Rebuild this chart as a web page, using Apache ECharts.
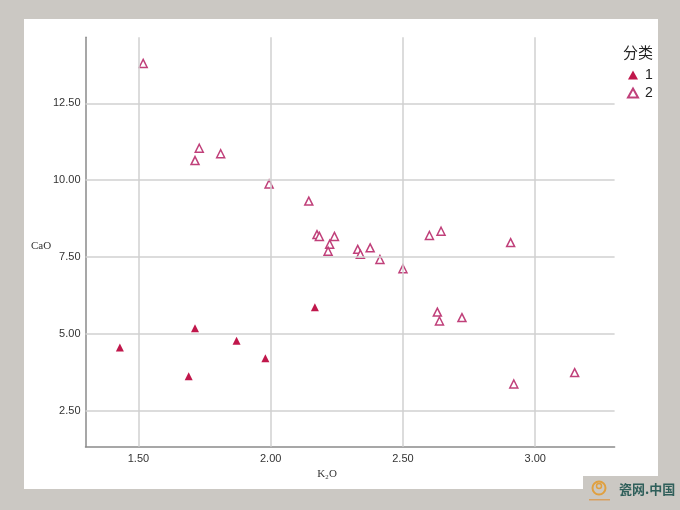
<!DOCTYPE html>
<html>
<head>
<meta charset="utf-8">
<script src="https://cdn.jsdelivr.net/npm/echarts@6/dist/echarts.min.js"></script>
<style>html,body{margin:0;padding:0;background:#cbc8c3;}#c{width:680px;height:510px;}</style>
</head>
<body>
<div id="c"></div>
<script>
var xTicks = [1.5, 2.0, 2.5, 3.0];
var yTicks = [2.5, 5.0, 7.5, 10.0, 12.5];
var seriesNames = ['1', '2'];
var group1 = [
  [1.430, 4.56], [1.714, 5.18], [1.690, 3.62], [1.871, 4.78], [1.980, 4.21], [2.167, 5.87]
];
var group2 = [
  [1.518, 13.80], [1.730, 11.04], [1.714, 10.64], [1.811, 10.86], [1.994, 9.88],
  [2.144, 9.32], [2.175, 8.23], [2.184, 8.17], [2.241, 8.17], [2.223, 7.92],
  [2.217, 7.69], [2.329, 7.75], [2.339, 7.59], [2.376, 7.80], [2.413, 7.42],
  [2.500, 7.12], [2.600, 8.20], [2.644, 8.34], [2.907, 7.97], [2.630, 5.71],
  [2.638, 5.42], [2.723, 5.53], [3.149, 3.74], [2.919, 3.37]
];

var chart = echarts.init(document.getElementById('c'));
var gridLineData = xTicks.map(function (v) { return { xAxis: v }; })
  .concat(yTicks.map(function (v) { return { yAxis: v }; }));

chart.setOption({
  backgroundColor: '#cbc8c3',
  animation: false,
  graphic: [
    { type: 'rect', z: -10, shape: { x: 24, y: 19, width: 634, height: 470 }, style: { fill: '#ffffff' } },
    { type: 'rect', z: -9, shape: { x: 583, y: 476, width: 97, height: 34 }, style: { fill: '#cbc8c3' } },
    { type: 'circle', z: 10, shape: { cx: 599, cy: 488, r: 6.5 }, style: { fill: 'none', stroke: '#e0a040', lineWidth: 2 } },
    { type: 'circle', z: 10, shape: { cx: 599, cy: 486, r: 2.5 }, style: { fill: 'none', stroke: '#e0a040', lineWidth: 1.5 } },
    { type: 'rect', z: 10, shape: { x: 589, y: 499, width: 21, height: 1.5 }, style: { fill: '#d8a060' } },
    { type: 'text', z: 10, style: { text: '瓷网.中国', x: 619, y: 489, fill: '#2f5f5a', font: 'bold 13px "Noto Sans CJK SC"', textVerticalAlign: 'middle' } },
    { type: 'text', style: { text: 'CaO', x: 41, y: 246, fill: '#333', font: '11px "Liberation Serif"', textAlign: 'center', textVerticalAlign: 'middle' } },
    { type: 'text', style: { text: 'K₂O', x: 327, y: 474, fill: '#333', font: '11px "Liberation Serif"', textAlign: 'center', textVerticalAlign: 'middle' } }
  ],
  title: {
    text: '分类', left: 618, top: 40,
    textStyle: { fontSize: 15, fontWeight: 'normal', color: '#222', fontFamily: '"Noto Sans CJK SC"' }
  },
  legend: {
    data: seriesNames, orient: 'vertical', left: 622, top: 63,
    itemWidth: 10, itemHeight: 9, itemGap: 4,
    textStyle: { fontSize: 14, color: '#222', fontFamily: '"Liberation Sans"', padding: [0, 0, 0, 2] }
  },
  grid: { left: 85.5, right: 65.4, top: 37.3, bottom: 63.2 },
  xAxis: {
    type: 'value', min: 1.3, max: 3.3,
    axisLine: { show: true, lineStyle: { color: '#8a8a8a', width: 1.5 } },
    axisTick: { show: false },
    splitLine: { show: false },
    axisLabel: {
      customValues: xTicks, margin: 7, color: '#333', fontSize: 11, fontFamily: '"Liberation Sans"',
      formatter: function (v) { return v.toFixed(2); }
    }
  },
  yAxis: {
    type: 'value', min: 1.326, max: 14.65,
    axisLine: { show: true, lineStyle: { color: '#8a8a8a', width: 1.5 } },
    axisTick: { show: false },
    splitLine: { show: false },
    axisLabel: {
      customValues: yTicks, margin: 5, color: '#333', fontSize: 11, fontFamily: '"Liberation Sans"',
      formatter: function (v) { return v.toFixed(2); }
    }
  },
  series: [
    {
      name: 'grid', type: 'scatter', data: [], z: 1, silent: true,
      markLine: {
        silent: true, symbol: 'none', label: { show: false },
        lineStyle: { color: '#d0d0d0', width: 1.5, type: 'solid' },
        data: gridLineData
      }
    },
    {
      name: seriesNames[0], type: 'scatter', symbol: 'triangle', symbolSize: 8, z: 3,
      itemStyle: { color: '#c0174b', opacity: 1 },
      data: group1
    },
    {
      name: seriesNames[1], type: 'scatter', symbol: 'triangle', symbolSize: 8, z: 3,
      itemStyle: { color: '#ffffff', borderColor: '#c0407a', borderWidth: 1.5, opacity: 1 },
      data: group2
    }
  ]
});
</script>
</body>
</html>
